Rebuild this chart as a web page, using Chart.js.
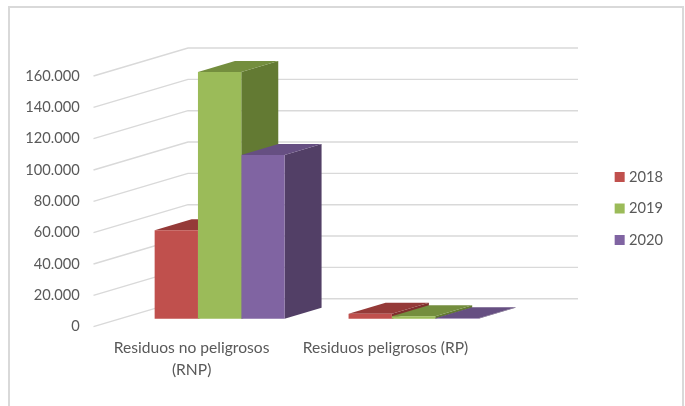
<!DOCTYPE html>
<html>
<head>
<meta charset="utf-8">
<style>
  html, body { margin: 0; padding: 0; background: #fff; overflow: hidden; }
  #frame { position: absolute; left: 8px; top: 6px; width: 672px; height: 420px; border: 2px solid #d9d9d9; }
  canvas { position: absolute; left: 0; top: 0; }
</style>
</head>
<body>
<div id="frame"></div>
<canvas id="wasteChart" width="685" height="406"></canvas>
<script src="https://cdn.jsdelivr.net/npm/chart.js@4"></script>
<script>
const categories = [['Residuos no peligrosos', '(RNP)'], 'Residuos peligrosos (RP)'];
const years = ['2018', '2019', '2020'];
const values2018 = [56500, 3200];
const values2019 = [157400, 1500];
const values2020 = [104400, 300];
const yTicks = ['0', '20.000', '40.000', '60.000', '80.000', '100.000', '120.000', '140.000', '160.000'];

const frontColors = ['#c0504d', '#9bbb59', '#8064a2'];
const topColors = ['#953a38', '#748e3e', '#664f82'];
const sideColors = ['#7f302e', '#637a33', '#523f66'];

// 3D look
const depthX = 37, depthY = 11;
const wallX = 94.5, wallY = 28, wallRight = 578;
const barLiftY = 8;

const threeD = {
  id: 'threeD',
  beforeDatasetsDraw(chart) {
    const ctx = chart.ctx, yScale = chart.scales.y, x0 = 93.5;
    ctx.save();
    // slanted floor/wall grid lines
    ctx.strokeStyle = '#d9d9d9';
    ctx.lineWidth = 1.4;
    yScale.ticks.forEach(t => {
      const y = yScale.getPixelForValue(t.value);
      ctx.beginPath();
      ctx.moveTo(x0, y);
      ctx.lineTo(x0 + wallX, y - wallY);
      ctx.lineTo(wallRight, y - wallY);
      ctx.stroke();
    });
    // top and side faces, left to right, so the fronts drawn later cover them
    ctx.translate(0, -barLiftY);
    chart.data.datasets.forEach((ds, i) => {
      chart.getDatasetMeta(i).data.forEach(bar => {
        const l = bar.x - bar.width / 2, r = bar.x + bar.width / 2;
        ctx.fillStyle = sideColors[i];
        ctx.beginPath();
        ctx.moveTo(r, bar.y);
        ctx.lineTo(r + depthX, bar.y - depthY);
        ctx.lineTo(r + depthX, bar.base - depthY);
        ctx.lineTo(r, bar.base);
        ctx.closePath();
        ctx.fill();
        ctx.fillStyle = topColors[i];
        ctx.beginPath();
        ctx.moveTo(l, bar.y);
        ctx.lineTo(l + depthX, bar.y - depthY);
        ctx.lineTo(r + depthX, bar.y - depthY);
        ctx.lineTo(r, bar.y);
        ctx.closePath();
        ctx.fill();
      });
    });
    ctx.restore();
  },
  beforeDatasetDraw(chart) {
    chart.ctx.save();
    chart.ctx.translate(0, -barLiftY);
  },
  afterDatasetDraw(chart) {
    chart.ctx.restore();
  },
  afterLayout(chart) {
    // legend sits right of the plot, around the middle of the picture
    const legend = chart.legend;
    legend.left = 600.84;
    legend.right = 685;
    legend.top -= 32.5;
    legend.bottom -= 32.5;
  }
};

new Chart(document.getElementById('wasteChart'), {
  type: 'bar',
  data: {
    labels: categories,
    datasets: [
      { label: years[0], data: values2018, backgroundColor: frontColors[0], clip: false },
      { label: years[1], data: values2019, backgroundColor: frontColors[1], clip: false },
      { label: years[2], data: values2020, backgroundColor: frontColors[2], clip: false }
    ]
  },
  options: {
    responsive: false,
    animation: false,
    categoryPercentage: 0.67,
    barPercentage: 1,
    layout: { padding: { top: 76, right: 104.5, bottom: 0, left: 0 } },
    plugins: {
      tooltip: { enabled: false },
      legend: {
        position: 'right',
        maxWidth: 70,
        labels: {
          usePointStyle: true,
          pointStyle: 'rect',
          boxWidth: 4,
          boxHeight: 10,
          padding: 16.83,
          color: '#595959',
          font: { family: 'Lato', size: 14.67 }
        }
      }
    },
    scales: {
      x: {
        grid: { display: false },
        border: { display: false },
        afterFit(scale) { scale.height = 79.3; },
        ticks: {
          maxRotation: 0,
          autoSkip: false,
          labelOffset: -28,
          padding: 2,
          color: '#595959',
          font: { family: 'Lato', size: 15.6, lineHeight: 1.41 }
        }
      },
      y: {
        min: 0,
        max: 160000,
        grid: { display: false },
        border: { display: false },
        afterFit(scale) { scale.width = 122.65; },
        ticks: {
          stepSize: 20000,
          padding: 35,
          color: '#595959',
          font: { family: 'Lato', size: 14.67 },
          callback: (v, i) => yTicks[i]
        }
      }
    }
  },
  plugins: [threeD]
});
</script>
</body>
</html>
